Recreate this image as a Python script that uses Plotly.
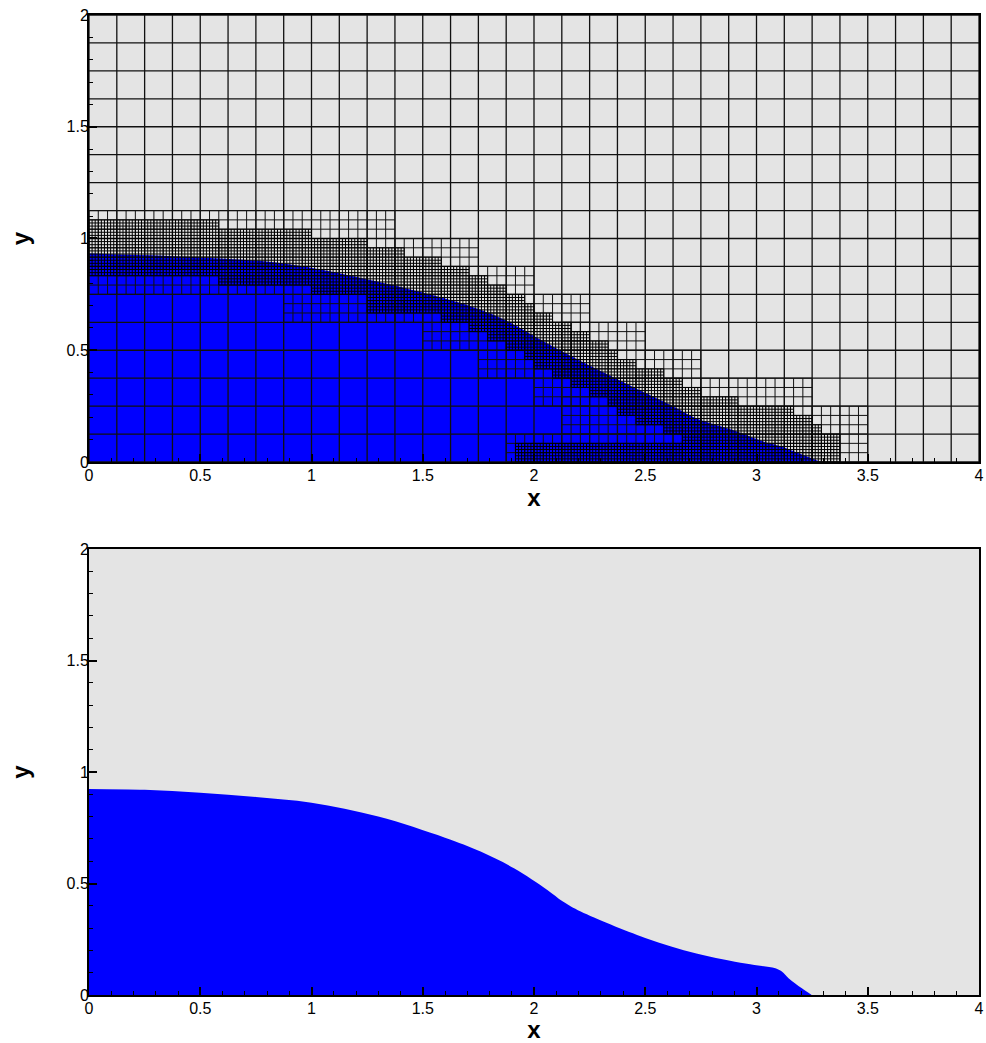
import numpy as np
import plotly.graph_objects as go

# ---------------- data ----------------
X_RANGE = [0.0, 4.0]
Y_RANGE = [0.0, 2.0]
COARSE_H = 0.125          # base mesh cell size
RATIO = 3                 # refinement ratio between levels
X_TICKS = [0, 0.5, 1, 1.5, 2, 2.5, 3, 3.5, 4]
Y_TICKS = [0, 0.5, 1, 1.5, 2]

# level-1 refinement boxes [x0, x1, y0, y1]
L1_BOXES = [
    [0.0, 0.875, 0.75, 1.125],
    [0.875, 1.375, 0.625, 1.125],
    [1.375, 1.5, 0.625, 1.0],
    [1.5, 1.75, 0.5, 1.0],
    [1.75, 2.0, 0.375, 0.875],
    [2.0, 2.25, 0.25, 0.75],
    [2.125, 2.5, 0.125, 0.625],
    [1.875, 2.5, 0.0, 0.125],
    [2.5, 2.75, 0.0, 0.5],
    [2.75, 3.25, 0.0, 0.375],
    [3.25, 3.5, 0.0, 0.25],
]

# level-2 band along the free surface (step edges, top, bottom)
FINE_X_EDGES = [0.0, 0.5833, 1.0, 1.25, 1.4167, 1.5833, 1.7083, 1.7917, 1.875,
                1.9583, 2.0, 2.0833, 2.1667, 2.25, 2.3333, 2.375, 2.4583, 2.5833,
                2.6667, 2.75, 2.9167, 3.1667, 3.25, 3.2917, 3.375]
FINE_TOP = [1.0833, 1.0417, 1.0, 0.9583, 0.9167, 0.875, 0.8333, 0.7917, 0.75,
            0.7083, 0.6667, 0.625, 0.5833, 0.5417, 0.5, 0.4583, 0.4167, 0.375,
            0.3333, 0.2917, 0.25, 0.2083, 0.1667, 0.125]
FINE_BOT = [0.8333, 0.7917, 0.75, 0.6667, 0.6667, 0.625, 0.5833, 0.5417, 0.5,
            0.4583, 0.4167, 0.375, 0.3333, 0.2917, 0.25, 0.2083, 0.1667, 0.125,
            0.0, 0.0, 0.0, 0.0, 0.0, 0.0]
# level-2 box along the bottom wall
FINE_WALL_BOX = [1.9167, 2.6667, 0.0, 0.0833]

# free surface in the mesh panel
MESH_IF_X = [0.0, 0.5, 0.875, 1.3, 1.72, 1.87, 2.02, 2.17, 2.32, 2.47, 2.62,
             2.73, 2.89, 3.03, 3.11, 3.17, 3.29]
MESH_IF_Y = [0.933, 0.915, 0.888, 0.806, 0.695, 0.635, 0.553, 0.472, 0.397,
             0.323, 0.252, 0.195, 0.144, 0.092, 0.07, 0.047, 0.0]

# free surface in the lower panel
SURF_X = [0.0, 0.25, 0.5, 0.75, 1.0, 1.3, 1.6, 1.76, 1.91, 2.06, 2.13, 2.21,
          2.5, 2.73, 2.95, 3.025, 3.085, 3.114, 3.144, 3.174, 3.204, 3.248]
SURF_Y = [0.924, 0.92, 0.907, 0.888, 0.862, 0.80, 0.705, 0.643, 0.568, 0.471,
          0.419, 0.374, 0.256, 0.186, 0.141, 0.130, 0.12, 0.105, 0.075,
          0.052, 0.03, 0.0]

# ---------------- styles ----------------
BG = "#e4e4e4"
WATER = "#0000ff"
FONT = "Liberation Sans, Arial, sans-serif"

H1 = COARSE_H / RATIO
H2 = H1 / RATIO


def snap(v, h):
    return round(v / h) * h


def box_lines(x0, x1, y0, y1, h):
    x0, x1, y0, y1 = snap(x0, h), snap(x1, h), snap(y0, h), snap(y1, h)
    xs, ys = [], []
    nx = int(round((x1 - x0) / h))
    ny = int(round((y1 - y0) / h))
    for i in range(nx + 1):
        x = x0 + i * h
        xs += [x, x, None]
        ys += [y0, y1, None]
    for j in range(ny + 1):
        y = y0 + j * h
        xs += [x0, x1, None]
        ys += [y, y, None]
    return xs, ys


fig = go.Figure()

# water in mesh panel
fig.add_trace(go.Scatter(x=MESH_IF_X, y=MESH_IF_Y, mode="lines", fill="tozeroy",
                         fillcolor=WATER,
                         line=dict(color=WATER, width=0, shape="spline", smoothing=1.0),
                         xaxis="x", yaxis="y", hoverinfo="skip", showlegend=False))

# coarse mesh
cx, cy = box_lines(X_RANGE[0], X_RANGE[1], Y_RANGE[0], Y_RANGE[1], COARSE_H)
fig.add_trace(go.Scatter(x=cx, y=cy, mode="lines", line=dict(color="#111", width=1.3),
                         xaxis="x", yaxis="y", hoverinfo="skip", showlegend=False))

# level-1
l1x, l1y = [], []
for b in L1_BOXES:
    a, c = box_lines(*b, H1)
    l1x += a
    l1y += c
fig.add_trace(go.Scatter(x=l1x, y=l1y, mode="lines", line=dict(color="#111", width=1.0),
                         xaxis="x", yaxis="y", hoverinfo="skip", showlegend=False))

# level-2
l2x, l2y = [], []
for k in range(len(FINE_TOP)):
    a, c = box_lines(FINE_X_EDGES[k], FINE_X_EDGES[k + 1], FINE_BOT[k], FINE_TOP[k], H2)
    l2x += a
    l2y += c
a, c = box_lines(*FINE_WALL_BOX, H2)
l2x += a
l2y += c
fig.add_trace(go.Scatter(x=l2x, y=l2y, mode="lines", line=dict(color="#000", width=1.0),
                         xaxis="x", yaxis="y", hoverinfo="skip", showlegend=False))

# water in lower panel
fig.add_trace(go.Scatter(x=SURF_X, y=SURF_Y, mode="lines", fill="tozeroy",
                         fillcolor=WATER,
                         line=dict(color=WATER, width=0, shape="spline", smoothing=1.0),
                         xaxis="x2", yaxis="y2", hoverinfo="skip", showlegend=False))

tickfont = dict(family=FONT, size=16, color="black")
titlefont = dict(family=FONT, size=24, color="black", weight="bold")


def xax(anchor):
    return dict(range=X_RANGE, tickvals=X_TICKS, ticktext=[f"{v:g}" for v in X_TICKS],
                ticks="inside", ticklen=8, tickwidth=2, tickcolor="black",
                minor=dict(dtick=0.1, tick0=0, ticks="inside", ticklen=4, tickwidth=1,
                           tickcolor="black", showgrid=False),
                showline=True, linecolor="black", linewidth=2, mirror=True,
                showgrid=False, zeroline=False, tickfont=tickfont,
                ticklabeloverflow="allow", ticklabelstandoff=-2,
                title=dict(text="x", font=titlefont, standoff=6),
                anchor=anchor, domain=[0, 1])


def yax(anchor, domain):
    return dict(range=Y_RANGE, tickvals=Y_TICKS, ticktext=[f"{v:g}" for v in Y_TICKS],
                ticks="inside", ticklen=8, tickwidth=2, tickcolor="black",
                minor=dict(dtick=0.1, tick0=0, ticks="inside", ticklen=4, tickwidth=1,
                           tickcolor="black", showgrid=False),
                showline=True, linecolor="black", linewidth=2, mirror=True,
                showgrid=False, zeroline=False, tickfont=tickfont,
                ticklabeloverflow="allow", ticklabelstandoff=-5,
                title=dict(text="y", font=titlefont, standoff=30),
                anchor=anchor, domain=domain)


fig.update_layout(
    width=986, height=1043,
    margin=dict(l=89, r=2, t=15, b=48),
    paper_bgcolor="white", plot_bgcolor=BG,
    showlegend=False,
    xaxis=xax("y"), yaxis=yax("x", [0.5439, 1.0]),
    xaxis2=xax("y2"), yaxis2=yax("x2", [0.0, 0.4551]),
)

fig.write_html("out.html",
               config={"displayModeBar": False},
               post_script="document.body.style.margin='0';document.body.style.overflow='hidden';")
